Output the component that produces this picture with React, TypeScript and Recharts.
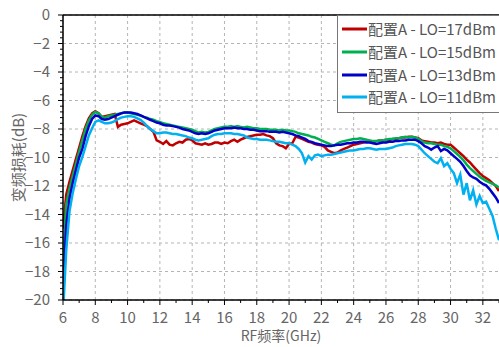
import React from 'react';
import { LineChart, Line, XAxis, YAxis, CartesianGrid, Legend, ReferenceLine } from 'recharts';

// RF frequency (GHz), 0.2 GHz steps
const freqs = [
  6.0, 6.2, 6.4, 6.6, 6.8, 7.0, 7.2, 7.4, 7.6, 7.8,
  8.0, 8.2, 8.4, 8.6, 8.8, 9.0, 9.2, 9.4, 9.6, 9.8,
  10.0, 10.2, 10.4, 10.6, 10.8, 11.0, 11.2, 11.4, 11.6, 11.8,
  12.0, 12.2, 12.4, 12.6, 12.8, 13.0, 13.2, 13.4, 13.6, 13.8,
  14.0, 14.2, 14.4, 14.6, 14.8, 15.0, 15.2, 15.4, 15.6, 15.8,
  16.0, 16.2, 16.4, 16.6, 16.8, 17.0, 17.2, 17.4, 17.6, 17.8,
  18.0, 18.2, 18.4, 18.6, 18.8, 19.0, 19.2, 19.4, 19.6, 19.8,
  20.0, 20.2, 20.4, 20.6, 20.8, 21.0, 21.2, 21.4, 21.6, 21.8,
  22.0, 22.2, 22.4, 22.6, 22.8, 23.0, 23.2, 23.4, 23.6, 23.8,
  24.0, 24.2, 24.4, 24.6, 24.8, 25.0, 25.2, 25.4, 25.6, 25.8,
  26.0, 26.2, 26.4, 26.6, 26.8, 27.0, 27.2, 27.4, 27.6, 27.8,
  28.0, 28.2, 28.4, 28.6, 28.8, 29.0, 29.2, 29.4, 29.6, 29.8,
  30.0, 30.2, 30.4, 30.6, 30.8, 31.0, 31.2, 31.4, 31.6, 31.8,
  32.0, 32.2, 32.4, 32.6, 32.8, 33.0,
];

// conversion loss (dB) per LO drive level
const lo17 = [
  -15.0, -12.6, -11.7, -10.9, -10.1, -9.3, -8.5, -7.8, -7.25, -6.9,
  -6.75, -6.9, -7.15, -7.1, -7.05, -7.0, -6.95, -7.85, -7.7, -7.65,
  -7.6, -7.5, -7.4, -7.5, -7.6, -7.7, -7.8, -8.0, -8.2, -8.8,
  -8.9, -9.05, -8.85, -9.1, -9.15, -9.0, -8.9, -8.95, -8.75, -8.7,
  -8.8, -9.0, -9.05, -9.1, -9.0, -9.1, -9.05, -8.95, -8.95, -9.05,
  -8.95, -9.0, -8.85, -8.75, -8.9, -8.75, -8.65, -8.55, -8.5, -8.45,
  -8.4, -8.4, -8.35, -8.45, -8.5, -8.65, -9.0, -9.15, -9.2, -9.35,
  -9.05, -9.0, -8.55, -8.6, -8.7, -8.8, -8.9, -8.95, -9.05, -9.1,
  -9.15, -9.25, -9.5, -9.6, -9.7, -9.65, -9.5, -9.4, -9.3, -9.2,
  -9.1, -9.05, -9.0, -8.95, -8.9, -8.9, -8.95, -8.85, -8.8, -8.8,
  -8.75, -8.8, -8.7, -8.7, -8.65, -8.6, -8.6, -8.55, -8.55, -8.6,
  -8.65, -8.8, -8.85, -8.9, -8.95, -8.95, -9.0, -8.95, -9.05, -9.1,
  -9.1, -9.3, -9.5, -9.7, -9.9, -10.15, -10.35, -10.6, -10.85, -11.1,
  -11.3, -11.45, -11.6, -11.8, -12.0, -12.35,
];

const lo15 = [
  -17.5, -13.3, -12.2, -11.3, -10.45, -9.6, -8.8, -8.0, -7.4, -7.0,
  -6.8, -6.9, -7.15, -7.2, -7.1, -7.05, -7.0, -6.95, -6.9, -6.85,
  -6.85, -6.9, -6.95, -7.0, -7.05, -7.15, -7.2, -7.3, -7.35, -7.45,
  -7.5, -7.6, -7.65, -7.7, -7.75, -7.8, -7.85, -7.9, -7.95, -8.0,
  -8.05, -8.15, -8.25, -8.2, -8.25, -8.2, -8.1, -8.0, -7.95, -7.9,
  -7.85, -7.85, -7.8, -7.85, -7.8, -7.85, -7.9, -7.85, -7.9, -7.95,
  -7.95, -8.0, -8.0, -8.0, -8.05, -8.05, -8.05, -8.1, -8.05, -8.1,
  -8.1, -8.15, -8.2, -8.3, -8.35, -8.4, -8.45, -8.55, -8.6, -8.7,
  -8.8, -8.9, -9.0, -9.1, -9.15, -9.0, -8.9, -8.85, -8.8, -8.75,
  -8.7, -8.7, -8.65, -8.7, -8.75, -8.8, -8.85, -8.85, -8.8, -8.8,
  -8.75, -8.7, -8.7, -8.65, -8.65, -8.6, -8.55, -8.6, -8.55, -8.6,
  -8.7, -8.85, -8.95, -9.0, -9.0, -9.05, -9.1, -9.1, -9.2, -9.25,
  -9.35, -9.55, -9.75, -9.95, -10.2, -10.5, -10.75, -10.95, -11.15, -11.35,
  -11.5, -11.65, -11.75, -11.85, -11.95, -12.1,
];

const lo13 = [
  -19.5, -14.8, -12.9, -11.8, -10.9, -10.0, -9.4, -8.5, -7.8, -7.3,
  -7.05, -7.1, -7.3, -7.35, -7.3, -7.2, -7.1, -7.0, -6.9, -6.85,
  -6.85, -6.85, -6.9, -6.95, -7.05, -7.15, -7.25, -7.35, -7.45, -7.55,
  -7.6, -7.7, -7.75, -7.75, -7.8, -7.85, -7.9, -8.0, -8.05, -8.1,
  -8.2, -8.3, -8.35, -8.3, -8.35, -8.3, -8.2, -8.1, -8.05, -8.0,
  -7.95, -7.95, -7.95, -7.9, -7.95, -7.95, -8.0, -8.0, -8.05, -8.05,
  -8.1, -8.15, -8.15, -8.15, -8.2, -8.2, -8.2, -8.25, -8.2, -8.25,
  -8.3, -8.35, -8.45, -8.5, -8.6, -8.7, -8.85, -8.9, -9.0, -9.05,
  -9.1, -9.15, -9.2, -9.2, -9.15, -9.1, -9.1, -9.05, -9.0, -9.0,
  -8.95, -8.95, -8.9, -8.9, -8.95, -8.95, -9.0, -9.05, -9.0, -8.95,
  -8.95, -8.9, -8.9, -8.85, -8.85, -8.8, -8.8, -8.75, -8.75, -8.75,
  -8.85, -9.0, -9.2, -9.3, -9.45, -9.3, -9.2, -9.55, -9.4, -9.5,
  -9.7, -9.9, -10.1, -10.3, -10.6, -10.95, -11.25, -11.4, -11.5, -11.7,
  -11.85, -11.95, -12.2, -12.5, -12.8, -13.2,
];

const lo11 = [
  -21.0, -16.5, -13.8, -12.5, -11.5, -10.6, -9.95, -9.2, -8.45, -7.95,
  -7.5, -7.4, -7.5, -7.6, -7.6, -7.55, -7.45, -7.3, -7.2, -7.15,
  -7.1, -7.1, -7.15, -7.25, -7.35, -7.55, -7.8, -8.0, -8.15, -8.3,
  -8.3, -8.25, -8.25, -8.3, -8.35, -8.35, -8.4, -8.45, -8.5, -8.6,
  -8.65, -8.75, -8.8, -8.75, -8.7, -8.65, -8.5, -8.4, -8.35, -8.35,
  -8.3, -8.3, -8.3, -8.35, -8.35, -8.4, -8.45, -8.6, -8.65, -8.7,
  -8.7, -8.75, -8.75, -8.75, -8.8, -8.85, -8.9, -8.9, -8.95, -9.0,
  -9.0, -9.1, -9.2, -9.4, -9.7, -10.35, -9.9, -10.15, -9.85, -9.8,
  -9.9, -9.85, -9.8, -9.8, -9.75, -9.7, -9.65, -9.6, -9.55, -9.5,
  -9.5, -9.45, -9.4, -9.4, -9.35, -9.35, -9.4, -9.45, -9.4, -9.4,
  -9.4, -9.35, -9.3, -9.2, -9.15, -9.1, -9.05, -9.05, -9.05, -9.1,
  -9.2, -9.45, -9.7, -9.9, -10.1, -10.3, -10.4, -10.05, -10.6, -10.4,
  -10.8, -11.1, -11.8, -11.2, -12.6, -11.8, -13.0, -12.3, -13.3, -12.7,
  -13.2, -13.1, -13.6, -14.1, -15.0, -15.8,
];

const seriesNames = ['配置A - LO=17dBm', '配置A - LO=15dBm', '配置A - LO=13dBm', '配置A - LO=11dBm'];
const seriesKeys = ['lo17', 'lo15', 'lo13', 'lo11'];
const seriesColors = ['#c00000', '#00b050', '#0000c8', '#00b0f0'];

const xMajorTicks = [6, 8, 10, 12, 14, 16, 18, 20, 22, 24, 26, 28, 30, 32];
const xAllTicks = [6, 7, 8, 9, 10, 11, 12, 13, 14, 15, 16, 17, 18, 19, 20, 21, 22, 23, 24, 25, 26, 27, 28, 29, 30, 31, 32, 33];
const yMajorTicks = [-20, -18, -16, -14, -12, -10, -8, -6, -4, -2, 0];
// minor ticks: 5 per major step
const yAllTicks = yMajorTicks.flatMap((t) => (t < 0 ? [t, t + 0.4, t + 0.8, t + 1.2, t + 1.6] : [t]));

const data = freqs.map((f, i) => ({
  f,
  lo17: lo17[i],
  lo15: lo15[i],
  lo13: lo13[i],
  lo11: lo11[i],
}));

const FONT = "'Noto Sans CJK SC', 'Noto Sans', sans-serif";
const TEXT = '#666';

const fmt = (v: number) => (v < 0 ? '\u2212' + Math.abs(v) : String(v));

function YTick(props: any) {
  const { x, y, payload } = props;
  const v = payload.value;
  const major = yMajorTicks.some((t) => Math.abs(t - v) < 1e-6);
  const axisX = x + 13;
  return (
    <g>
      <line x1={axisX - (major ? 5 : 3)} x2={axisX} y1={y} y2={y} stroke="#000" strokeWidth={1} />
      {major && (
        <text x={x} y={y} dy="0.36em" textAnchor="end" fill={TEXT} fontSize={15} fontFamily={FONT}>
          {fmt(v)}
        </text>
      )}
    </g>
  );
}

function XTick(props: any) {
  const { x, y, payload } = props;
  const v = payload.value;
  const major = xMajorTicks.includes(v);
  const axisY = y - 10;
  return (
    <g>
      <line x1={x} x2={x} y1={axisY} y2={axisY + (major ? 5 : 3)} stroke="#000" strokeWidth={1} />
      {major && (
        <text x={x} y={y} dy="0.85em" textAnchor="middle" fill={TEXT} fontSize={15} fontFamily={FONT}>
          {v}
        </text>
      )}
    </g>
  );
}

function LegendBox() {
  return (
    <div
      style={{
        border: '1px solid #777',
        background: '#fff',
        padding: '2px 0 3px 4px',
        width: 170,
        boxSizing: 'border-box',
      }}
    >
      {seriesNames.map((name, i) => (
        <div key={name} style={{ display: 'flex', alignItems: 'center', height: 22.7 }}>
          <svg width={25} height={4} style={{ marginRight: 1 }}>
            <line x1={0} y1={2} x2={25} y2={2} stroke={seriesColors[i]} strokeWidth={3} />
          </svg>
          <span style={{ fontSize: 15, color: '#555', whiteSpace: 'pre', fontFamily: FONT, lineHeight: '22px' }}>
            {name}
          </span>
        </div>
      ))}
    </div>
  );
}

export default function App() {
  return (
    <div style={{ position: 'absolute', left: 0, top: 0, background: '#fff' }}>
      <LineChart width={499} height={347} data={data} margin={{ top: 15, right: 0, left: 0, bottom: 0 }}>
        <CartesianGrid
          stroke="#b4b4b4"
          strokeDasharray="3 3"
          horizontalValues={yMajorTicks}
          verticalValues={xMajorTicks}
        />
        <XAxis
          dataKey="f"
          type="number"
          domain={[6, 33]}
          ticks={xAllTicks}
          interval={0}
          allowDataOverflow
          height={47}
          tickSize={5}
          tickMargin={5}
          tickLine={false}
          tick={<XTick />}
          axisLine={{ stroke: '#000', strokeWidth: 1.5 }}
          label={{
            value: 'RF频率(GHz)',
            position: 'center',
            dy: 13,
            style: { fill: TEXT, fontSize: 14, fontFamily: FONT },
          }}
        />
        <YAxis
          type="number"
          domain={[-20, 0]}
          ticks={yAllTicks}
          interval={0}
          allowDataOverflow
          width={63}
          tickSize={4}
          tickMargin={9}
          tickLine={false}
          tick={<YTick />}
          axisLine={{ stroke: '#000', strokeWidth: 1.5 }}
          label={{
            value: '变频损耗(dB)',
            angle: -90,
            position: 'center',
            dx: -13,
            style: { fill: TEXT, fontSize: 15, fontFamily: FONT },
          }}
        />
        <ReferenceLine y={0} stroke="#000" strokeWidth={1.5} />
        {seriesKeys.map((k, i) => (
          <Line
            key={k}
            type="linear"
            dataKey={k}
            name={seriesNames[i]}
            stroke={seriesColors[i]}
            strokeWidth={2.5}
            dot={false}
            isAnimationActive={false}
          />
        ))}
        <Legend
          layout="vertical"
          align="center"
          verticalAlign="middle"
          content={<LegendBox />}
          wrapperStyle={{ position: 'absolute', top: 15, left: 337, width: 170 }}
        />
      </LineChart>
    </div>
  );
}
